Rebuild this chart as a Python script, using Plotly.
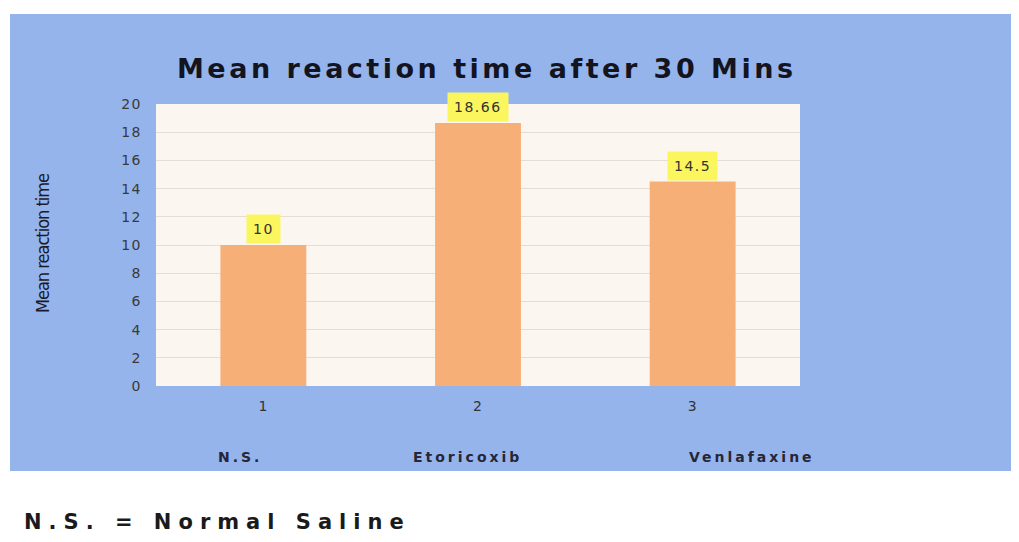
import plotly.graph_objects as go

# ---- data ----
categories = ["1", "2", "3"]
values = [10, 18.66, 14.5]
value_labels = ["10", "18.66", "14.5"]
group_names = ["N.S.", "Etoricoxib", "Venlafaxine"]
y_ticks = [0, 2, 4, 6, 8, 10, 12, 14, 16, 18, 20]

title_text = "Mean reaction time after 30 Mins"
y_title = "Mean reaction time"
footnote = "N.S. = Normal Saline"

# ---- layout geometry (screen pixels; page has an 8px body margin) ----
OFF = 8
W, H = 1011, 534
L, R, T, B = 148, 219, 96, 156
pw, ph = W - L - R, H - T - B

def px(x):
    return (x - OFF - L) / pw

def py(y):
    return (H - B - (y - OFF)) / ph

def spaced(s, sp):
    return '<span style="letter-spacing:%spx">%s</span>' % (sp, s)

group_x = [240, 467, 752]

fig = go.Figure()
fig.add_trace(go.Bar(
    x=categories, y=values,
    marker=dict(color="#f7af78", line=dict(width=0)),
    width=0.4,
    hoverinfo="skip",
))

annotations = []
for i, (v, t) in enumerate(zip(values, value_labels)):
    annotations.append(dict(
        x=i, y=v, xref="x", yref="y", text=spaced(t, 1.5), showarrow=False,
        yanchor="bottom", yshift=1,
        font=dict(family="DejaVu Sans, sans-serif", size=14, color="#333333"),
        bgcolor="#fbf55e", borderpad=6,
    ))
for g, gx in zip(group_names, group_x):
    annotations.append(dict(
        x=px(gx), y=py(457), xref="paper", yref="paper",
        text="<b>" + spaced(g, 3) + "</b>",
        showarrow=False, xanchor="center", yanchor="middle",
        font=dict(family="DejaVu Sans, sans-serif", size=14, color="#262636"),
    ))
annotations.append(dict(
    x=px(487), y=py(68), xref="paper", yref="paper",
    text="<b>" + spaced(title_text, 3.5) + "</b>", showarrow=False,
    font=dict(family="DejaVu Sans, sans-serif", size=27, color="#14141e"),
    xanchor="center", yanchor="middle",
))
annotations.append(dict(
    x=px(42), y=py(243), xref="paper", yref="paper",
    text=spaced(y_title, -1), showarrow=False, textangle=-90,
    font=dict(family="DejaVu Sans Condensed, DejaVu Sans, sans-serif", size=18, color="#1a1a2a"),
    xanchor="center", yanchor="middle",
))
annotations.append(dict(
    x=px(22), y=py(522), xref="paper", yref="paper",
    text="<b>" + spaced(footnote, 7) + "</b>", showarrow=False,
    font=dict(family="DejaVu Sans, sans-serif", size=21, color="#1a1a1a"),
    xanchor="left", yanchor="middle",
))

shapes = [
    dict(type="rect", xref="paper", yref="paper", layer="below",
         x0=px(10), x1=px(1019), y0=py(471), y1=py(14),
         fillcolor="#95b4ec", line=dict(width=0)),
    dict(type="rect", xref="paper", yref="paper", layer="below",
         x0=0, x1=1, y0=0, y1=1,
         fillcolor="#fcf6f1", line=dict(width=0)),
]

fig.update_layout(
    width=W, height=H,
    margin=dict(l=L, r=R, t=T, b=B),
    paper_bgcolor="white",
    plot_bgcolor="#fcf6f1",
    showlegend=False,
    bargap=0.6,
    shapes=shapes,
    annotations=annotations,
    xaxis=dict(
        type="category", showgrid=False, zeroline=False, showline=False,
        ticks="", ticklabelstandoff=10,
        tickvals=categories, ticktext=[spaced(c, 1) for c in categories],
        tickfont=dict(family="DejaVu Sans, sans-serif", size=14, color="#333333"),
    ),
    yaxis=dict(
        range=[0, 20], tickvals=y_ticks,
        ticktext=[spaced(str(t), 1.5) for t in y_ticks],
        showgrid=True, gridcolor="#e6dcd8", gridwidth=1,
        zeroline=False, showline=False,
        ticks="", ticklabelstandoff=13,
        tickfont=dict(family="DejaVu Sans, sans-serif", size=14, color="#3a3a3a"),
    ),
)

fig.write_html("out.html")
